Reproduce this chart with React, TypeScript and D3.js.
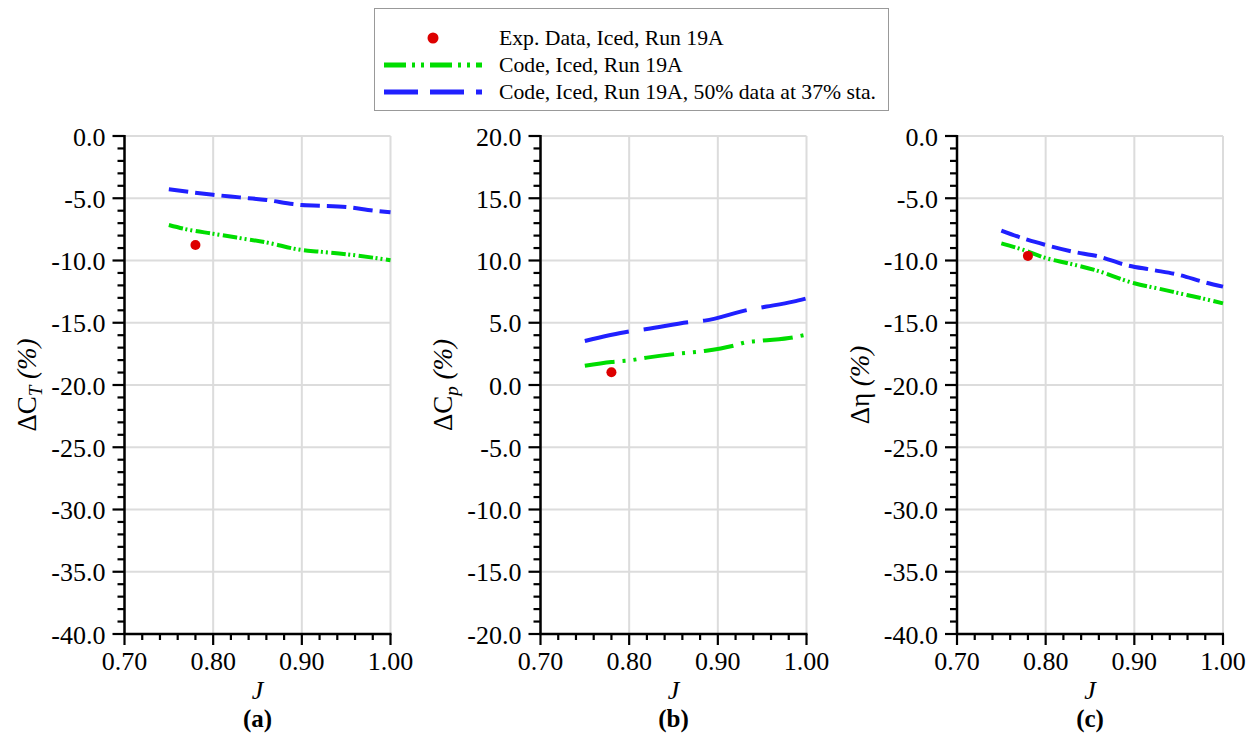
import React from 'react';
import * as d3 from 'd3';

// ---------- data ----------
const J_TICKS = [0.7, 0.8, 0.9, 1.0];

// Panel (a) ΔC_T
const A_GREEN_J = [0.75, 0.77, 0.80, 0.83, 0.86, 0.90, 0.92, 0.95, 0.98, 1.00];
const A_GREEN_V = [-7.15, -7.5, -7.85, -8.2, -8.55, -9.16, -9.29, -9.5, -9.77, -9.98];
const A_BLUE_J = [0.75, 0.80, 0.83, 0.86, 0.89, 0.90, 0.92, 0.95, 0.98, 1.00];
const A_BLUE_V = [-4.28, -4.72, -4.93, -5.14, -5.47, -5.55, -5.6, -5.7, -5.98, -6.13];
const A_EXP_J = [0.78];
const A_EXP_V = [-8.75];

// Panel (b) ΔC_p
const B_GREEN_J = [0.75, 0.78, 0.80, 0.82, 0.85, 0.885, 0.92, 0.93, 0.95, 0.985, 1.00];
const B_GREEN_V = [1.55, 1.85, 1.97, 2.2, 2.48, 2.73, 3.2, 3.4, 3.56, 3.83, 4.05];
const B_BLUE_J = [0.75, 0.80, 0.82, 0.87, 0.885, 0.935, 0.955, 0.985, 1.00];
const B_BLUE_V = [3.53, 4.3, 4.5, 5.07, 5.17, 6.05, 6.3, 6.7, 6.96];
const B_EXP_J = [0.78];
const B_EXP_V = [1.02];

// Panel (c) Δη
const C_GREEN_J = [0.75, 0.775, 0.80, 0.825, 0.855, 0.90, 0.93, 0.95, 0.98, 1.00];
const C_GREEN_V = [-8.62, -9.15, -9.8, -10.22, -10.75, -11.83, -12.3, -12.62, -13.1, -13.44];
const C_BLUE_J = [0.75, 0.78, 0.80, 0.83, 0.86, 0.89, 0.92, 0.95, 0.98, 1.00];
const C_BLUE_V = [-7.6, -8.35, -8.75, -9.28, -9.68, -10.35, -10.75, -11.15, -11.76, -12.1];
const C_EXP_J = [0.78];
const C_EXP_V = [-9.63];

const LEGEND_LABELS = [
  'Exp. Data, Iced, Run 19A',
  'Code, Iced, Run 19A',
  'Code, Iced, Run 19A, 50% data at 37% sta.',
];
const PANEL_TAGS = ['(a)', '(b)', '(c)'];

// ---------- style ----------
const FONT = "'Liberation Serif', 'Times New Roman', Tinos, 'DejaVu Serif', serif";
const GREEN = '#00dd00';
const BLUE = '#2020ff';
const RED = '#dd0000';
const GRID = '#dcdcdc';

const zip = (xs: number[], ys: number[]) => xs.map((x, i) => [x, ys[i]] as [number, number]);

type Panel = {
  left: number;
  yDomain: [number, number];
  green: [number, number][];
  blue: [number, number][];
  exp: [number, number][];
  greenDash: string;
  blueDash: string;
  label: 'CT' | 'Cp' | 'eta';
  tag: string;
};

const PANELS: Panel[] = [
  { left: 124.5, yDomain: [-40, 0], green: zip(A_GREEN_J, A_GREEN_V), blue: zip(A_BLUE_J, A_BLUE_V), exp: zip(A_EXP_J, A_EXP_V), greenDash: '14.5 2.5 2 3 2 3.5', blueDash: '19.5 7', label: 'CT', tag: PANEL_TAGS[0] },
  { left: 540.5, yDomain: [-20, 20], green: zip(B_GREEN_J, B_GREEN_V), blue: zip(B_BLUE_J, B_BLUE_V), exp: zip(B_EXP_J, B_EXP_V), greenDash: '30 8 3 8 3 8', blueDash: '45 15', label: 'Cp', tag: PANEL_TAGS[1] },
  { left: 957, yDomain: [-40, 0], green: zip(C_GREEN_J, C_GREEN_V), blue: zip(C_BLUE_J, C_BLUE_V), exp: zip(C_EXP_J, C_EXP_V), greenDash: '14.5 2.5 2 3 2 3.5', blueDash: '19.5 7', label: 'eta', tag: PANEL_TAGS[2] },
];

const PW = 266;
const TOP = 136;
const BOTTOM = 634;
const textStyle = { fontFamily: FONT };

function YLabel({ kind, x, y }: { kind: string; x: number; y: number }) {
  if (kind === 'eta') {
    return (
      <text transform={`translate(${x},${y}) rotate(-90)`} textAnchor="middle" fontSize={27} style={textStyle}>
        Δη<tspan fontStyle="italic"> (%)</tspan>
      </text>
    );
  }
  const sub = kind === 'CT' ? 'T' : 'p';
  return (
    <text transform={`translate(${x},${y}) rotate(-90)`} textAnchor="middle" fontSize={27} style={textStyle}>
      ΔC<tspan fontStyle="italic" fontSize={19} dy={6}>{sub}</tspan>
      <tspan fontStyle="italic" dy={-6}> (%)</tspan>
    </text>
  );
}

function PanelView({ p }: { p: Panel }) {
  const x = d3.scaleLinear().domain([0.7, 1.0]).range([p.left, p.left + PW]);
  const y = d3.scaleLinear().domain(p.yDomain).range([BOTTOM, TOP]);
  const line = d3
    .line<[number, number]>()
    .x((d) => x(d[0]))
    .y((d) => y(d[1]))
    .curve(d3.curveMonotoneX);
  const yMajor = d3.range(p.yDomain[0], p.yDomain[1] + 0.001, 5);
  const yMinor = d3.range(p.yDomain[0], p.yDomain[1] + 0.001, 1).filter((v) => Math.abs(v % 5) > 0.01);
  const xMinor = d3.range(0.7, 1.0001, 0.02).filter((v) => !J_TICKS.some((t) => Math.abs(t - v) < 1e-6));
  const cx = p.left + PW / 2;
  return (
    <g>
      {yMajor.map((v) => (
        <line key={'gy' + v} x1={p.left} x2={p.left + PW} y1={y(v)} y2={y(v)} stroke={GRID} strokeWidth={2} />
      ))}
      {J_TICKS.map((v) => (
        <line key={'gx' + v} x1={x(v)} x2={x(v)} y1={TOP} y2={BOTTOM} stroke={GRID} strokeWidth={2} />
      ))}
      <path d={line(p.green) || ''} fill="none" stroke={GREEN} strokeWidth={4} strokeDasharray={p.greenDash} />
      <path d={line(p.blue) || ''} fill="none" stroke={BLUE} strokeWidth={4} strokeDasharray={p.blueDash} />
      {p.exp.map((d, i) => (
        <circle key={'e' + i} cx={x(d[0])} cy={y(d[1])} r={5} fill={RED} />
      ))}
      <line x1={p.left} x2={p.left} y1={TOP - 1} y2={BOTTOM + 1} stroke="#000" strokeWidth={2.5} />
      <line x1={p.left - 1} x2={p.left + PW + 1} y1={BOTTOM} y2={BOTTOM} stroke="#000" strokeWidth={2.5} />
      {yMajor.map((v) => (
        <g key={'ty' + v}>
          <line x1={p.left - 12} x2={p.left} y1={y(v)} y2={y(v)} stroke="#000" strokeWidth={2.2} />
          <text x={p.left - 19} y={y(v) + 9.5} textAnchor="end" fontSize={26} style={textStyle}>
            {v.toFixed(1)}
          </text>
        </g>
      ))}
      {yMinor.map((v) => (
        <line key={'my' + v} x1={p.left - 7} x2={p.left} y1={y(v)} y2={y(v)} stroke="#000" strokeWidth={2.2} />
      ))}
      {J_TICKS.map((v) => (
        <g key={'tx' + v}>
          <line x1={x(v)} x2={x(v)} y1={BOTTOM} y2={BOTTOM + 11} stroke="#000" strokeWidth={2.2} />
          <text x={x(v)} y={BOTTOM + 36} textAnchor="middle" fontSize={26} style={textStyle}>
            {v.toFixed(2)}
          </text>
        </g>
      ))}
      {xMinor.map((v) => (
        <line key={'mx' + v} x1={x(v)} x2={x(v)} y1={BOTTOM} y2={BOTTOM + 6} stroke="#000" strokeWidth={2.2} />
      ))}
      <text x={cx} y={BOTTOM + 65} textAnchor="middle" fontSize={26} fontStyle="italic" style={textStyle}>
        J
      </text>
      <text x={cx} y={BOTTOM + 93} textAnchor="middle" fontSize={25} fontWeight="bold" style={textStyle}>
        {p.tag}
      </text>
      <YLabel kind={p.label} x={p.left - 88.5} y={(TOP + BOTTOM) / 2} />
    </g>
  );
}

function Legend() {
  const bx = 374.5, by = 8.5, bw = 514, bh = 102;
  const ys = [38, 65, 92];
  return (
    <g>
      <rect x={bx} y={by} width={bw} height={bh} fill="#fff" stroke="#999" strokeWidth={1} />
      <circle cx={433} cy={ys[0]} r={5.5} fill={RED} />
      <line x1={384} x2={482} y1={ys[1]} y2={ys[1]} stroke={GREEN} strokeWidth={5} strokeDasharray="22 6 3 6 3 6" />
      <line x1={384} x2={482} y1={ys[2]} y2={ys[2]} stroke={BLUE} strokeWidth={5} strokeDasharray="34 12" />
      {LEGEND_LABELS.map((t, i) => (
        <text key={t} x={499} y={ys[i] + 7} fontSize={21.7} style={textStyle}>
          {t}
        </text>
      ))}
    </g>
  );
}

export default function App() {
  return (
    <svg width={1260} height={738} style={{ position: 'absolute', left: 0, top: 0, background: '#fff' }}>
      <rect width={1260} height={738} fill="#fff" />
      {PANELS.map((p, i) => (
        <PanelView key={i} p={p} />
      ))}
      <Legend />
    </svg>
  );
}
